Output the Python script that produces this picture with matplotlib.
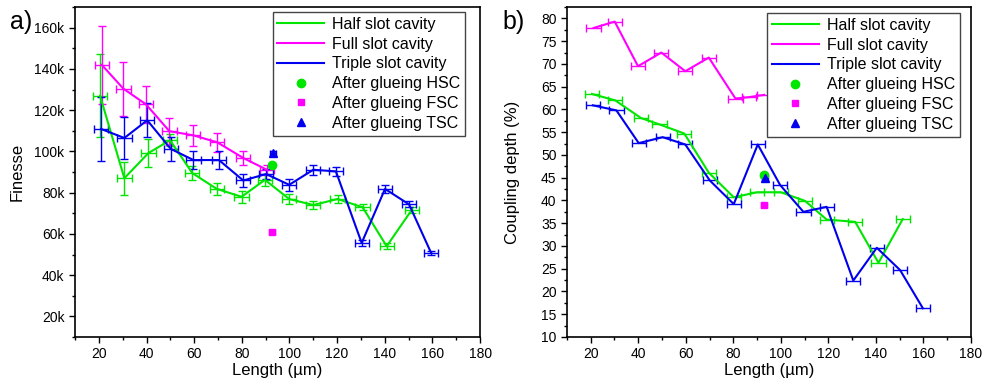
import numpy as np
import matplotlib
matplotlib.use("Agg")
import matplotlib.pyplot as plt
from matplotlib.ticker import MultipleLocator, FuncFormatter
from matplotlib.lines import Line2D

plt.rcParams['font.family'] = ['Liberation Sans', 'DejaVu Sans']

# ---- data, panel a (finesse, in k) ----
x_hsc = [20.5, 30.7, 40.8, 49.9, 59.2, 69.5, 79.9, 89.7, 99.9, 110.0, 120.2, 130.7, 140.8, 151.3]
f_hsc = [127, 87, 99.2, 105.4, 89.5, 81.8, 78.0, 86.2, 76.9, 74.0, 76.9, 72.9, 54.0, 71.6]
f_hsc_err = [20, 8, 7, 3, 3.5, 3, 3, 3, 2.5, 2, 2, 1.5, 1.5, 1.5]

x_fsc = [21.2, 30.3, 39.8, 49.6, 59.6, 69.7, 80.6, 90.7]
f_fsc = [142, 130.4, 122.8, 109.8, 107.8, 104.4, 96.8, 91.0]
f_fsc_err = [19, 13, 9, 6.5, 5, 4.6, 3.5, 2.5]

x_tsc = [20.9, 30.7, 40.3, 50.2, 59.7, 70.4, 80.6, 90.2, 99.9, 110.0, 119.5, 130.3, 140.1, 150.2, 159.4]
f_tsc = [110.9, 106.5, 115.1, 101.2, 95.8, 95.8, 85.9, 89.0, 83.8, 91.1, 90.3, 55.6, 81.8, 74.3, 50.9]
f_tsc_err = [15.5, 10, 8.3, 5.8, 4.5, 4.5, 3, 2.5, 3, 2.5, 2, 1.5, 2, 1.5, 1]

x_glue = [92.8, 92.8, 93.2]
f_glue = [93.2, 61.0, 99.2]

# ---- data, panel b (coupling depth, %) ----
xb_hsc = [20.5, 30.3, 41.2, 49.0, 59.4, 69.7, 80.2, 90.0, 100.0, 110.2, 119.3, 131.3, 141.1, 151.3]
c_hsc = [63.4, 62.0, 58.1, 56.7, 54.7, 46.1, 40.7, 41.8, 41.8, 39.9, 35.8, 35.3, 26.3, 35.9]

xb_fsc = [21.2, 30.1, 39.9, 49.7, 59.8, 69.7, 80.9, 86.5, 93.0]
c_fsc = [77.9, 79.3, 69.5, 72.5, 68.4, 71.4, 62.4, 62.7, 63.2]

xb_tsc = [20.9, 30.8, 40.2, 50.3, 59.8, 70.1, 80.2, 90.3, 99.7, 109.5, 119.3, 130.5, 140.4, 150.2, 159.8]
c_tsc = [60.9, 59.8, 52.6, 53.9, 52.3, 44.4, 39.2, 52.3, 43.4, 37.5, 38.6, 22.4, 29.6, 24.7, 16.3]

c_glue = [45.6, 39.0, 44.9]

x_err = 3.0
glue_err = 1.2

green = '#00e600'
magenta = '#ff00ff'
blue = '#0000ee'

fig = plt.figure(figsize=(9.86, 3.85), dpi=100)
ax1 = fig.add_axes([0.0761, 0.1247, 0.4108, 0.857])
ax2 = fig.add_axes([0.575, 0.1247, 0.4097, 0.857])

# panel a
ax1.errorbar(x_hsc, f_hsc, yerr=f_hsc_err, xerr=x_err, color=green, lw=1.5, capsize=3, elinewidth=1)
ax1.errorbar(x_fsc, f_fsc, yerr=f_fsc_err, xerr=x_err, color=magenta, lw=1.5, capsize=3, elinewidth=1)
ax1.errorbar(x_tsc, f_tsc, yerr=f_tsc_err, xerr=x_err, color=blue, lw=1.5, capsize=3, elinewidth=1)
ax1.errorbar(x_glue[0], f_glue[0], xerr=glue_err, yerr=1, fmt='o', ms=6, color=green, capsize=2, elinewidth=1)
ax1.errorbar(x_glue[1], f_glue[1], xerr=glue_err, yerr=0.8, fmt='s', ms=5, color=magenta, capsize=2, elinewidth=1)
ax1.errorbar(x_glue[2], f_glue[2], xerr=glue_err, yerr=1, fmt='^', ms=6, color=blue, capsize=2, elinewidth=1)
ax1.set_ylim(10, 170)
ax1.yaxis.set_major_locator(MultipleLocator(20))
ax1.yaxis.set_minor_locator(MultipleLocator(10))
ax1.yaxis.set_major_formatter(FuncFormatter(lambda v, p: '%dk' % v))
ax1.set_ylabel('Finesse', fontsize=12)

# panel b
ax2.errorbar(xb_hsc, c_hsc, xerr=x_err, color=green, lw=1.5, capsize=3, elinewidth=1)
ax2.errorbar(xb_fsc, c_fsc, xerr=x_err, color=magenta, lw=1.5, capsize=3, elinewidth=1)
ax2.errorbar(xb_tsc, c_tsc, xerr=x_err, color=blue, lw=1.5, capsize=3, elinewidth=1)
ax2.errorbar(x_glue[0], c_glue[0], xerr=glue_err, fmt='o', ms=6, color=green, capsize=2, elinewidth=1)
ax2.errorbar(x_glue[1], c_glue[1], xerr=glue_err, fmt='s', ms=5, color=magenta, capsize=2, elinewidth=1)
ax2.errorbar(x_glue[2], c_glue[2], xerr=glue_err, fmt='^', ms=6, color=blue, capsize=2, elinewidth=1)
ax2.set_ylim(10, 82.5)
ax2.yaxis.set_major_locator(MultipleLocator(5))
ax2.yaxis.set_minor_locator(MultipleLocator(2.5))
ax2.set_ylabel('Coupling depth (%)', fontsize=12)

handles = [
    Line2D([], [], color=green, lw=1.5),
    Line2D([], [], color=magenta, lw=1.5),
    Line2D([], [], color=blue, lw=1.5),
    Line2D([], [], color=green, ls='none', marker='o', ms=6),
    Line2D([], [], color=magenta, ls='none', marker='s', ms=5),
    Line2D([], [], color=blue, ls='none', marker='^', ms=6),
]
labels = ['Half slot cavity', 'Full slot cavity', 'Triple slot cavity',
          'After glueing HSC', 'After glueing FSC', 'After glueing TSC']

for ax, tag, anchor in [(ax1, 'a)', (0.962, 0.985)), (ax2, 'b)', (0.972, 0.982))]:
    ax.set_xlim(10, 180)
    ax.xaxis.set_major_locator(MultipleLocator(20))
    ax.xaxis.set_minor_locator(MultipleLocator(10))
    ax.set_xlabel('Length (µm)', fontsize=12, labelpad=1)
    ax.tick_params(which='major', direction='out', length=4, labelsize=10, width=1)
    ax.tick_params(which='minor', direction='out', length=2.5, width=1)
    for s in ax.spines.values():
        s.set_linewidth(1.2)
    leg = ax.legend(handles, labels, loc='upper right', bbox_to_anchor=anchor,
                    fontsize=11.5, frameon=True, fancybox=False, framealpha=1,
                    edgecolor='#444444', handlelength=2.9, borderaxespad=0.0,
                    labelspacing=0.3, handletextpad=0.5, borderpad=0.3)
    leg.get_frame().set_linewidth(1.0)
    ax.text(-0.16, 0.99, tag, transform=ax.transAxes, fontsize=18, va='top')

ax1.yaxis.set_label_coords(-0.125, 0.5)
ax2.yaxis.set_label_coords(-0.115, 0.5)

fig.savefig('out.png', dpi=100)
